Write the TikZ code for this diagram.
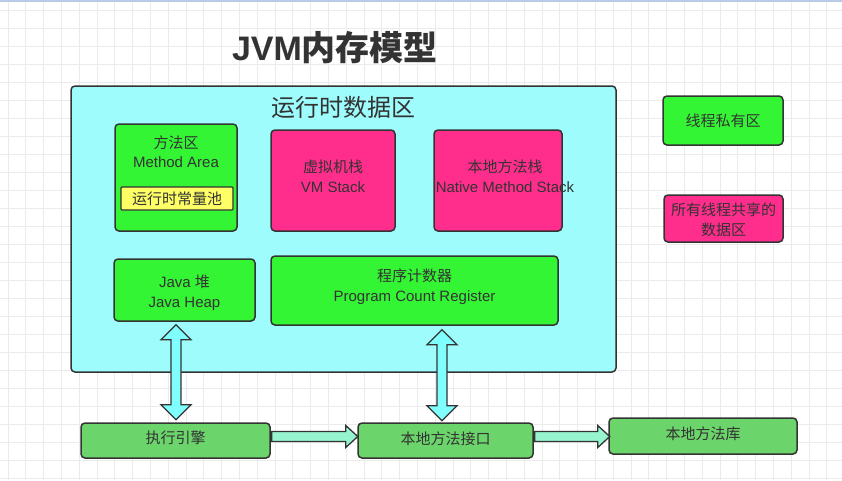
\documentclass[tikz,border=0pt]{standalone}
\usepackage{fontspec}
\setmainfont{Liberation Sans}
\newfontfamily\cjk{Noto Sans CJK SC}
\usetikzlibrary{calc}
\definecolor{linec}{HTML}{333333}
\definecolor{cyanbg}{HTML}{9EFCFC}
\definecolor{greenf}{HTML}{33F533}
\definecolor{pinkf}{HTML}{FF2D8C}
\definecolor{yellowf}{HTML}{FFFF66}
\definecolor{botg}{HTML}{6BD46B}
\definecolor{arrc}{HTML}{80FFFF}
\definecolor{arrh}{HTML}{96F5CF}
\definecolor{gridc}{HTML}{EBEBEB}
\definecolor{topline}{HTML}{B8CCE8}
\begin{document}
\begin{tikzpicture}[x=1pt,y=-1pt,
  box/.style={draw=linec, line width=1.5pt, rounded corners=4pt, inner sep=0pt, align=center, text=linec, font=\fontsize{15}{20}\selectfont},
  lbl/.style={inner sep=0pt, align=center, text=linec, font=\fontsize{15}{20}\selectfont},
  fatv/.style={draw=linec, line width=1.3pt, fill=arrc, line join=miter},
  fath/.style={draw=linec, line width=1.3pt, fill=arrh, line join=miter}]
\useasboundingbox (0,0) rectangle (842,480);
\fill[white] (0,0) rectangle (842,480);
% grid
\foreach \i in {0,...,47} { \draw[gridc, line width=0.7pt] ({8+17.8*\i},0) -- ({8+17.8*\i},480); }
\foreach \j in {0,...,27} { \draw[gridc, line width=0.7pt] (0,{10+18*\j}) -- (842,{10+18*\j}); }
\fill[topline] (0,0) rectangle (842,2);
% title
\node[inner sep=0pt, text=linec, font=\fontsize{34}{38}\selectfont] (title) at (335,48) {{\bfseries JVM}{\cjk\bfseries 内存模型}};
% runtime data area
\node[box, fill=cyanbg, minimum width=545pt, minimum height=286pt] (rda) at (343.5,229) {};
\node[lbl, font=\fontsize{24}{28}\selectfont] (rdat) at (343,107) {\cjk 运行时数据区};
% method area
\node[box, fill=greenf, minimum width=122pt, minimum height=107pt] (ma) at (176,177.5) {};
\node[lbl] (mat1) at (176,143) {\cjk 方法区};
\node[lbl] (mat2) at (176,162) {Method Area};
\node[box, line width=1.2pt, rounded corners=1pt, fill=yellowf, minimum width=112pt, minimum height=23pt] (pool) at (177,198.5) {\cjk 运行时常量池};
% stacks
\node[box, fill=pinkf, minimum width=124pt, minimum height=101pt] (vm) at (333,180.5) {};
\node[lbl] (vmt) at (333,176.5) {{\cjk 虚拟机栈}\\VM Stack};
\node[box, fill=pinkf, minimum width=128pt, minimum height=101pt] (nat) at (498,180.5) {};
\node[lbl] (natt) at (505,176.5) {{\cjk 本地方法栈}\\Native Method Stack};
% heap and pc
\node[box, fill=greenf, minimum width=141pt, minimum height=62pt] (heap) at (184.5,290) {};
\node[lbl] (heapt) at (184.5,293) {Java {\cjk 堆}\\Java Heap};
\node[box, fill=greenf, minimum width=287pt, minimum height=69pt] (pc) at (414.5,290.5) {};
\node[lbl] (pct) at (414.5,286.5) {{\cjk 程序计数器}\\Program Count Register};
% legend
\node[box, fill=greenf, minimum width=120pt, minimum height=49pt] (priv) at (723,120.5) {\cjk 线程私有区};
\node[box, fill=pinkf, minimum width=119pt, minimum height=47pt] (shared) at (723.5,218.5) {};
\node[lbl] (sharedt) at (723.5,219.5) {{\cjk 所有线程共享的}\\{\cjk 数据区}};
% bottom
\node[box, fill=botg, minimum width=189pt, minimum height=35pt] (exe) at (175.5,440.5) {};
\node[lbl] (exet) at (175.5,438) {\cjk 执行引擎};
\node[box, fill=botg, minimum width=175pt, minimum height=35pt] (jni) at (445.5,440.5) {};
\node[lbl] (jnit) at (445.5,438.5) {\cjk 本地方法接口};
\node[box, fill=botg, minimum width=188pt, minimum height=36pt] (lib) at (703,436) {};
\node[lbl] (libt) at (703,434) {\cjk 本地方法库};
% vertical double arrows
\coordinate (v1) at ($(heap.south)+(-8.5,3)$);
\coordinate (v2) at ($(pc.south)+(27.5,4)$);
\draw[fatv] (v1) -- ++(15,15) -- ++(-10,0) -- ++(0,65) -- ++(10,0) -- ++(-15,15) -- ++(-15,-15) -- ++(10,0) -- ++(0,-65) -- ++(-10,0) -- cycle;
\draw[fatv] (v2) -- ++(15,15) -- ++(-10,0) -- ++(0,61) -- ++(10,0) -- ++(-15,15) -- ++(-15,-15) -- ++(10,0) -- ++(0,-61) -- ++(-10,0) -- cycle;
% horizontal arrows
\coordinate (h1) at ($(exe.east)+(1,-4)$);
\coordinate (h2) at ($(jni.east)+(1,-4)$);
\draw[fath] (h1) -- ++(0,-5) -- ++(74,0) -- ++(0,-6) -- ++(12,11) -- ++(-12,11) -- ++(0,-6) -- ++(-74,0) -- cycle;
\draw[fath] (h2) -- ++(0,-5) -- ++(63,0) -- ++(0,-6) -- ++(12,11) -- ++(-12,11) -- ++(0,-6) -- ++(-63,0) -- cycle;
\end{tikzpicture}
\end{document}
